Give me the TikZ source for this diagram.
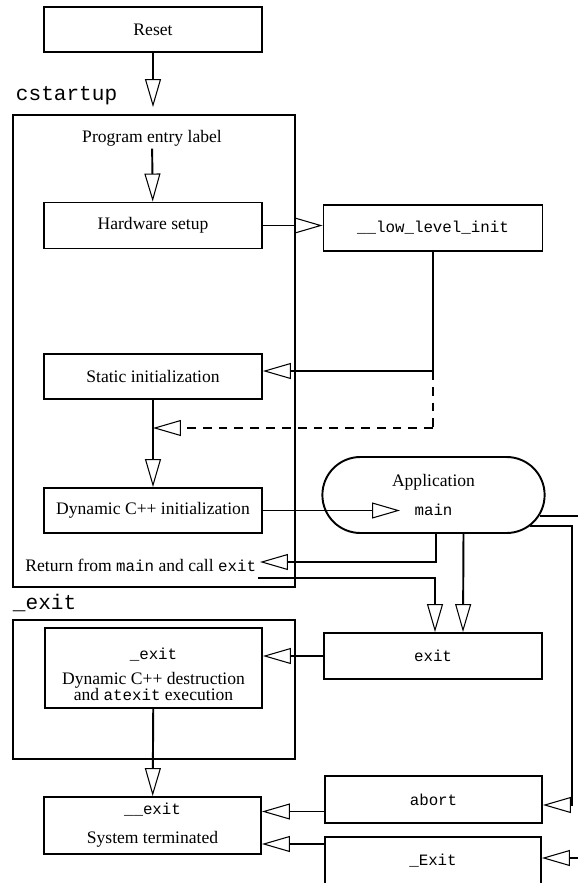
\documentclass[tikz,border=0pt]{standalone}
\usepackage{fontspec}
\setmainfont{Liberation Serif}
\setmonofont{Liberation Mono}
\usetikzlibrary{calc,arrows.meta,shapes.misc}
\newcommand{\tcode}[1]{{\ttfamily\fontsize{9}{10}\selectfont #1}}

\begin{document}
\begin{tikzpicture}[x=.02cm,y=-.02cm,line width=1.1pt,
  blk/.style={draw,minimum width=4.36cm,minimum height=.92cm,inner sep=1pt,align=center},
  frm/.style={draw,minimum width=5.64cm},
  arr/.style={-{Triangle[open,length=.56cm,width=.32cm,line width=.6pt]}},
  dsh/.style={dash pattern=on 5pt off 4pt}]
\useasboundingbox (0,0) rectangle (578,883);
% frames
\node[frm,minimum height=9.44cm](cstart)at(154,351){};
\node[frm,minimum height=2.78cm](exfrm)at(154,689.5){};
\node[anchor=base west,inner sep=0pt,font=\ttfamily\fontsize{12}{14}\selectfont](cslbl)at(15,100){cstartup};
\node[anchor=base west,inner sep=0pt,font=\ttfamily\fontsize{12}{14}\selectfont](exlbl)at(12,609){\_exit};
% left column
\node[blk,minimum height=.9cm](reset)at(153,29.5){Reset};
\node[anchor=base,inner sep=1pt](entry)at(152,142){Program entry label};
\node[blk](hw)at(153,225.5){Hardware setup};
\node[blk,minimum height=.9cm](static)at(153,376.5){Static initialization};
\node[blk,minimum height=.9cm](dyn)at(153,510.5){Dynamic C++ initialization};
\node[anchor=base east,inner sep=0pt](ret)at(257,571){Return from \tcode{main} and call \tcode{exit}};
\node[blk,minimum width=4.34cm,minimum height=1.6cm](dtor)at(153.5,668){};
\node[align=center,inner sep=0pt](dtortxt)at(153.5,674){\tcode{\_exit}\\[2.6pt]
  Dynamic C++ destruction\\[-3.3pt]and \tcode{atexit} execution};
\node[blk,minimum width=4.34cm,minimum height=1.14cm](ex)at(152.5,825.5){\tcode{\_\_exit}\\[4.5pt]System terminated};
% right column
\node[blk,minimum width=4.38cm](lowinit)at(433,228){\tcode{\_\_low\_level\_init}};
\node[draw,rounded rectangle,minimum width=4.68cm,minimum height=1.52cm,align=center](app)at(433.5,495){Application\\[4pt]\tcode{main}};
\node[blk](exit)at(433,656){\tcode{exit}};
\node[blk,minimum width=4.34cm,minimum height=.94cm](abort)at(433.5,799.5){\tcode{abort}};
\node[blk,minimum width=4.32cm,minimum height=.96cm](xexit)at(433,861){\tcode{\_Exit}};
% bends
\coordinate(lowjoin)at(433,371);
\coordinate(dashjoin)at(433,428);
\coordinate(mainin)at(400,511);
\coordinate(retjoin)at(436,562);
\coordinate(retend)at(260,562);
\coordinate(callstart)at(258,578);
\coordinate(calljoin)at(435,578);
\coordinate(edgea)at(578,515);
\coordinate(abortjoin)at(572,805);
\coordinate(edgeb)at(578,858);
\coordinate(abortout)at($(abort.west)+(0,12)$);
\coordinate(xexitout)at($(xexit.west)+(0,-17)$);
% connectors
\draw[arr,shorten >=4pt](reset)--(reset|-cstart.north);
\draw[arr](entry)--(hw);
\draw[arr](hw.east)--(hw.east-|lowinit.west);
\draw[arr](lowinit.south)|-(lowjoin-|static.east);
\draw[dsh,line width=.6pt](lowjoin)--(dashjoin);
\draw[arr,dsh](dashjoin)--(dashjoin-|static.south);
\draw[arr](static)--(dyn);
\draw[arr](dyn.east)--(dyn.east-|mainin);
\draw[arr](retjoin|-app.south)--(retjoin)--(retend);
\draw[arr](callstart)--(calljoin)--(calljoin|-exit.north);
\draw[arr]($(app.south)+(30,0)$)--($(exit.north)+(30,0)$);
\draw(app.-11)--(app.-11-|edgea);
\draw[arr](app.-18)-|(abortjoin)--(abortjoin-|abort.east);
\draw[arr](edgeb)--(edgeb-|xexit.east);
\draw[arr](exit.west)--(exit.west-|dtor.east);
\draw[arr](dtor)--(ex);
\draw[arr](abortout)--(abortout-|ex.east);
\draw[arr](xexitout)--(xexitout-|ex.east);
\end{tikzpicture}
\end{document}
